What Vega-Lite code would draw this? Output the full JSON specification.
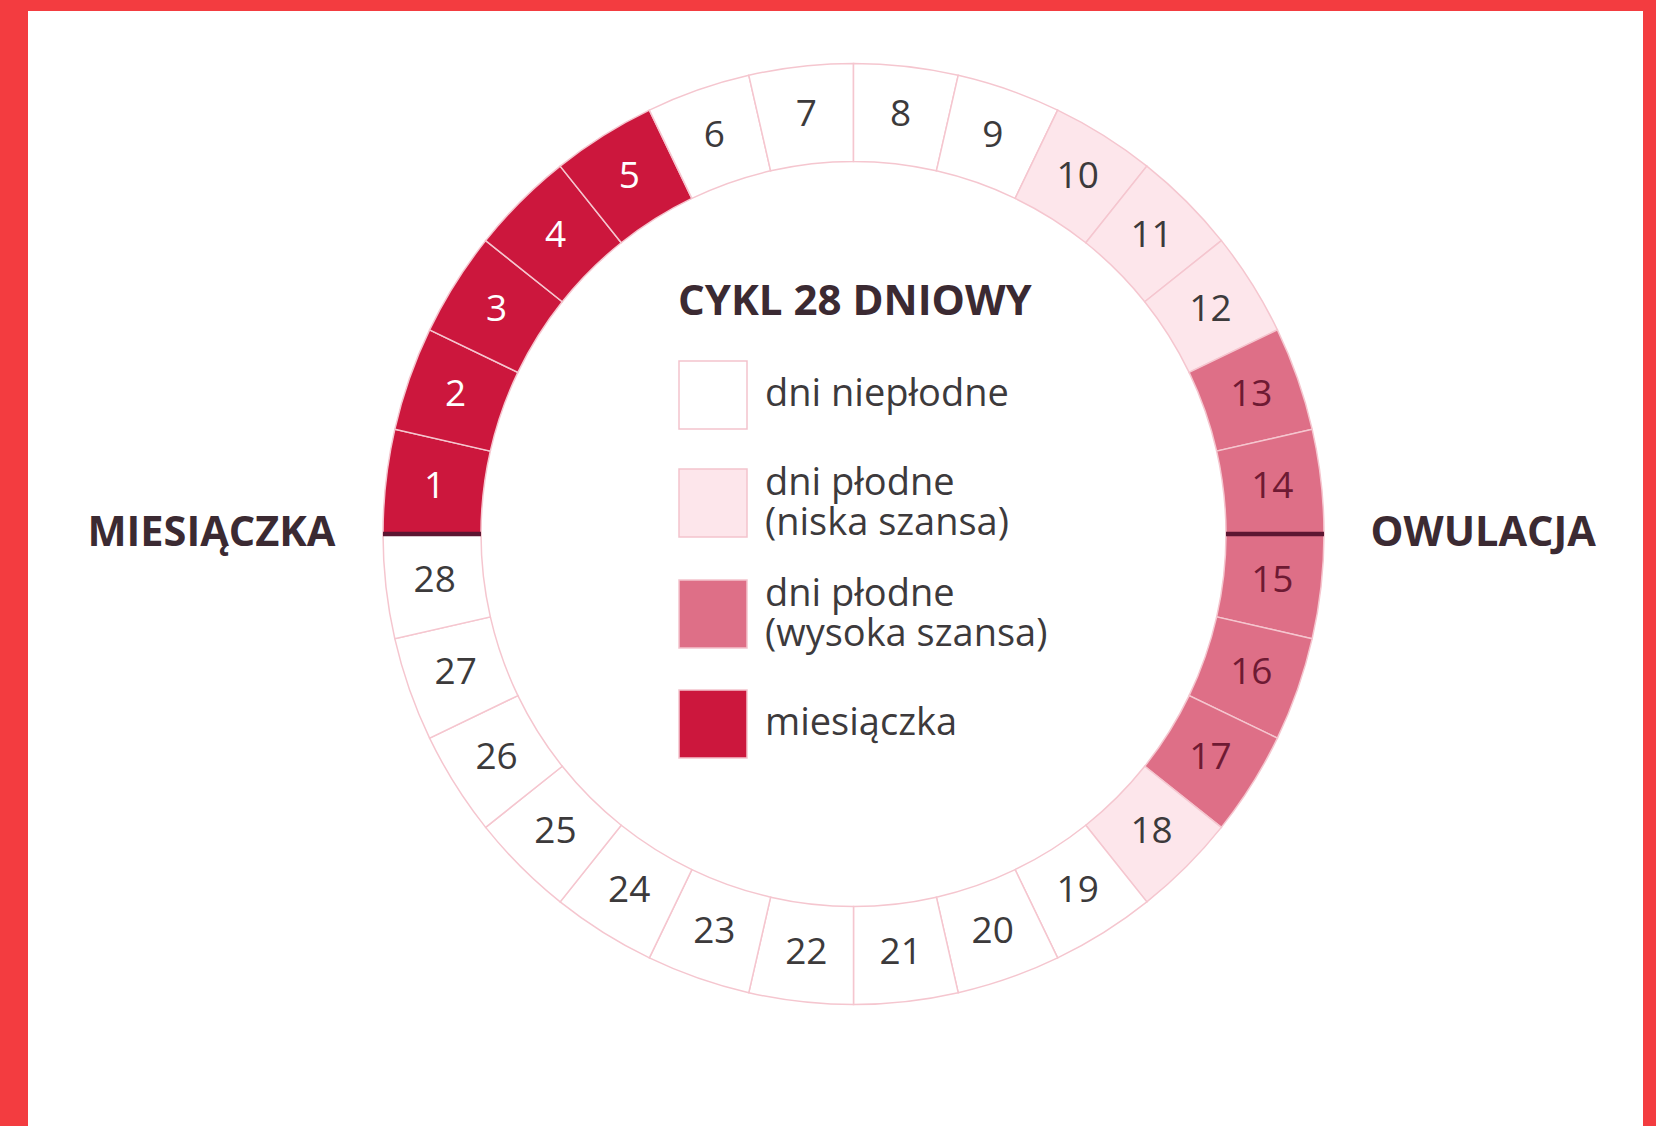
{
  "$schema": "https://vega.github.io/schema/vega-lite/v6.json",
  "width": 1656,
  "height": 1126,
  "autosize": {"type": "fit", "contains": "padding"},
  "padding": {"left": 28, "top": 11, "right": 13, "bottom": 0},
  "background": "#f33c40",
  "view": {"fill": "#ffffff", "stroke": null},
  "config": {
    "view": {"fill": "#ffffff", "stroke": null},
    "font": "Open Sans",
    "legend": {
      "orient": "none",
      "legendX": 650,
      "legendY": 271,
      "symbolType": "square",
      "symbolSize": 4624,
      "symbolStrokeColor": "#f3c3cd",
      "symbolStrokeWidth": 1.5,
      "symbolOpacity": 1,
      "labelFont": "Open Sans",
      "labelFontSize": 38,
      "labelColor": "#3d3a3c",
      "labelOffset": 17,
      "labelLimit": 500,
      "rowPadding": 33,
      "titleFont": "Open Sans",
      "titleFontSize": 42,
      "titleFontWeight": "bold",
      "titleColor": "#3b2a32",
      "titlePadding": 36,
      "titleLimit": 600
    }
  },
  "datasets": {
    "dni": [
      {"dzien": 1, "faza": "miesiączka"},
      {"dzien": 2, "faza": "miesiączka"},
      {"dzien": 3, "faza": "miesiączka"},
      {"dzien": 4, "faza": "miesiączka"},
      {"dzien": 5, "faza": "miesiączka"},
      {"dzien": 6, "faza": "dni niepłodne"},
      {"dzien": 7, "faza": "dni niepłodne"},
      {"dzien": 8, "faza": "dni niepłodne"},
      {"dzien": 9, "faza": "dni niepłodne"},
      {"dzien": 10, "faza": "dni płodne (niska szansa)"},
      {"dzien": 11, "faza": "dni płodne (niska szansa)"},
      {"dzien": 12, "faza": "dni płodne (niska szansa)"},
      {"dzien": 13, "faza": "dni płodne (wysoka szansa)"},
      {"dzien": 14, "faza": "dni płodne (wysoka szansa)"},
      {"dzien": 15, "faza": "dni płodne (wysoka szansa)"},
      {"dzien": 16, "faza": "dni płodne (wysoka szansa)"},
      {"dzien": 17, "faza": "dni płodne (wysoka szansa)"},
      {"dzien": 18, "faza": "dni płodne (niska szansa)"},
      {"dzien": 19, "faza": "dni niepłodne"},
      {"dzien": 20, "faza": "dni niepłodne"},
      {"dzien": 21, "faza": "dni niepłodne"},
      {"dzien": 22, "faza": "dni niepłodne"},
      {"dzien": 23, "faza": "dni niepłodne"},
      {"dzien": 24, "faza": "dni niepłodne"},
      {"dzien": 25, "faza": "dni niepłodne"},
      {"dzien": 26, "faza": "dni niepłodne"},
      {"dzien": 27, "faza": "dni niepłodne"},
      {"dzien": 28, "faza": "dni niepłodne"}
    ],
    "granice": [
      {"granica": 0, "etykieta": "MIESIĄCZKA"},
      {"granica": 14, "etykieta": "OWULACJA"}
    ]
  },
  "layer": [
    {
      "data": {"name": "dni"},
      "mark": {"type": "arc", "x": 825.5, "y": 523, "innerRadius": 372.5, "outerRadius": 470.5, "stroke": "#f5c6cf", "strokeWidth": 1.5},
      "encoding": {
        "theta": {"aggregate": "count", "type": "quantitative", "stack": true, "scale": {"domain": [0, 28], "range": [4.71238898, 10.99557429]}},
        "order": {"field": "dzien", "type": "quantitative"},
        "color": {
          "field": "faza",
          "type": "nominal",
          "title": "CYKL 28 DNIOWY",
          "scale": {
            "domain": ["dni niepłodne", "dni płodne (niska szansa)", "dni płodne (wysoka szansa)", "miesiączka"],
            "range": ["#ffffff", "#fde6eb", "#de6f87", "#cc173d"]
          },
          "legend": {
            "labelExpr": "indexof(datum.label, ' (') > 0 ? [slice(datum.label, 0, indexof(datum.label, ' (')), slice(datum.label, indexof(datum.label, ' (') + 1)] : datum.label",
            "labelBaseline": {"expr": "indexof(datum.label, ' (') > 0 ? 'bottom' : 'middle'"}
          }
        },
        "detail": {"field": "dzien", "type": "quantitative"}
      }
    },
    {
      "data": {"name": "dni"},
      "mark": {"type": "text", "x": 825.5, "y": 523, "radius": 421.5, "fontSize": 37, "font": "Open Sans"},
      "encoding": {
        "theta": {"aggregate": "count", "type": "quantitative", "stack": true, "scale": {"domain": [0, 28], "range": [4.71238898, 10.99557429]}},
        "order": {"field": "dzien", "type": "quantitative"},
        "detail": {"field": "dzien", "type": "quantitative"},
        "text": {"field": "dzien", "type": "quantitative"},
        "color": {
          "condition": [
            {"test": "datum.dzien <= 5", "value": "#ffffff"},
            {"test": "datum.dzien >= 13 && datum.dzien <= 17", "value": "#6e1a33"}
          ],
          "value": "#3c3a3b"
        }
      }
    },
    {
      "data": {"name": "granice"},
      "mark": {"type": "arc", "x": 825.5, "y": 523, "innerRadius": 372.5, "outerRadius": 470.5, "stroke": "#5c1632", "strokeWidth": 4.5, "fill": null},
      "encoding": {
        "theta": {"field": "granica", "type": "quantitative", "stack": null, "scale": {"domain": [0, 28], "range": [4.71238898, 10.99557429]}},
        "theta2": {"field": "granica"}
      }
    },
    {
      "data": {"name": "granice"},
      "transform": [{"filter": "datum.granica == 0"}],
      "mark": {"type": "text", "x": 825.5, "y": 523, "radius": 518, "align": "right", "baseline": "middle", "fontSize": 41.5, "fontWeight": "bold", "font": "Open Sans", "color": "#3b2a32"},
      "encoding": {
        "theta": {"field": "granica", "type": "quantitative", "stack": null, "scale": {"domain": [0, 28], "range": [4.71238898, 10.99557429]}},
        "text": {"field": "etykieta"}
      }
    },
    {
      "data": {"name": "granice"},
      "transform": [{"filter": "datum.granica == 14"}],
      "mark": {"type": "text", "x": 825.5, "y": 523, "radius": 517, "align": "left", "baseline": "middle", "fontSize": 41.5, "fontWeight": "bold", "font": "Open Sans", "color": "#3b2a32"},
      "encoding": {
        "theta": {"field": "granica", "type": "quantitative", "stack": null, "scale": {"domain": [0, 28], "range": [4.71238898, 10.99557429]}},
        "text": {"field": "etykieta"}
      }
    }
  ]
}
